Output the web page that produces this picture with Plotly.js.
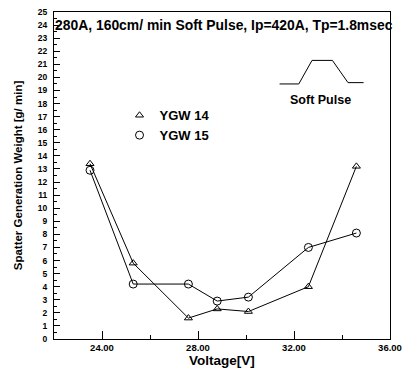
<!DOCTYPE html>
<html><head><meta charset="utf-8">
<script src="https://cdn.plot.ly/plotly-3.0.1.min.js"></script>
<style>html,body{margin:0;padding:0;background:#fff}#c{width:406px;height:376px}</style>
</head><body><div id="c"></div>
<script>
const voltage = [23.5, 25.3, 27.6, 28.8, 30.1, 32.6, 34.6];
const ygw14 = [13.4, 5.8, 1.6, 2.3, 2.1, 4.0, 13.2];
const ygw15 = [12.9, 4.2, 4.2, 2.9, 3.2, 7.0, 8.1];
const seriesNames = ['YGW 14', 'YGW 15'];
const xTickVals = [24, 28, 32, 36];
const xTickText = ['24.00', '28.00', '32.00', '36.00'];
// soft pulse waveform sketch (inset)
const pulseX = [31.4, 32.2, 32.75, 33.6, 34.25, 34.9];
const pulseY = [19.5, 19.5, 21.3, 21.3, 19.6, 19.6];

const F = 'Liberation Sans, Arial, sans-serif';
const line = {color: '#000', width: 1};
const traces = [
  {x: voltage, y: ygw14, mode: 'lines+markers', line: line, showlegend: false,
   marker: {symbol: 'triangle-up-open', size: 7, color: '#000', line: {width: 1}}},
  {x: voltage, y: ygw15, mode: 'lines+markers', line: line, showlegend: false,
   marker: {symbol: 'circle-open', size: 8, color: '#000', line: {width: 1}}},
  {x: [null], y: [null], mode: 'markers', name: seriesNames[0],
   marker: {symbol: 'triangle-up-open', size: 7, color: '#000', line: {width: 1}}},
  {x: [null], y: [null], mode: 'markers', name: seriesNames[1],
   marker: {symbol: 'circle-open', size: 8, color: '#000', line: {width: 1}}},
  {x: pulseX, y: pulseY, mode: 'lines', line: {color: '#000', width: 1}, showlegend: false, hoverinfo: 'skip'}
];
const layout = {
  width: 406, height: 376,
  margin: {l: 54, r: 16, t: 12, b: 37},
  paper_bgcolor: '#fff', plot_bgcolor: '#fff',
  font: {family: F, color: '#000'},
  title: {text: '<b>280A, 160cm/ min Soft Pulse, Ip=420A, Tp=1.8msec</b>',
    font: {family: F, size: 13.9, color: '#000'},
    x: 55/406, xanchor: 'left', xref: 'container', y: 1 - 25/376, yanchor: 'middle', yref: 'container'},
  xaxis: {range: [22, 36], tickvals: xTickVals, ticktext: xTickText, ticks: 'inside', ticklen: 8,
    tickcolor: '#000', showline: true, linecolor: '#000', linewidth: 1, mirror: true, showgrid: false, zeroline: false,
    tickfont: {family: F, size: 9.5, color: '#000', weight: 'bold'},
    minor: {tickvals: [26, 30, 34], ticks: 'inside', ticklen: 4, tickcolor: '#000', showgrid: false},
    title: {text: '<b>Voltage[V]</b>', font: {family: F, size: 13.5, color: '#000'}, standoff: 2}},
  yaxis: {range: [0, 25], dtick: 1, tick0: 0, ticks: 'inside', ticklen: 6, tickcolor: '#000',
    showline: true, linecolor: '#000', linewidth: 1, mirror: true, showgrid: false, zeroline: false,
    tickfont: {family: F, size: 8.5, color: '#000', weight: 'bold'}, ticklabelstandoff: 4,
    minor: {dtick: 0.5, ticks: 'inside', ticklen: 3, tickcolor: '#000', showgrid: false},
    title: {text: '<b>Spatter Generation Weight [g/ min]</b>', font: {family: F, size: 11.5, color: '#000'}, standoff: 12}},
  legend: {x: 0.195, y: 0.73, xanchor: 'left', yanchor: 'top', bgcolor: 'rgba(0,0,0,0)',
    font: {family: F, size: 13, color: '#000', weight: 'bold'}, tracegroupgap: 0, itemwidth: 30},
  annotations: [{x: 33.1, y: 18.3, xref: 'x', yref: 'y', text: '<b>Soft Pulse</b>', showarrow: false,
    font: {family: F, size: 12.5, color: '#000'}}]
};
Plotly.newPlot('c', traces, layout, {displayModeBar: false, staticPlot: true});
</script></body></html>
